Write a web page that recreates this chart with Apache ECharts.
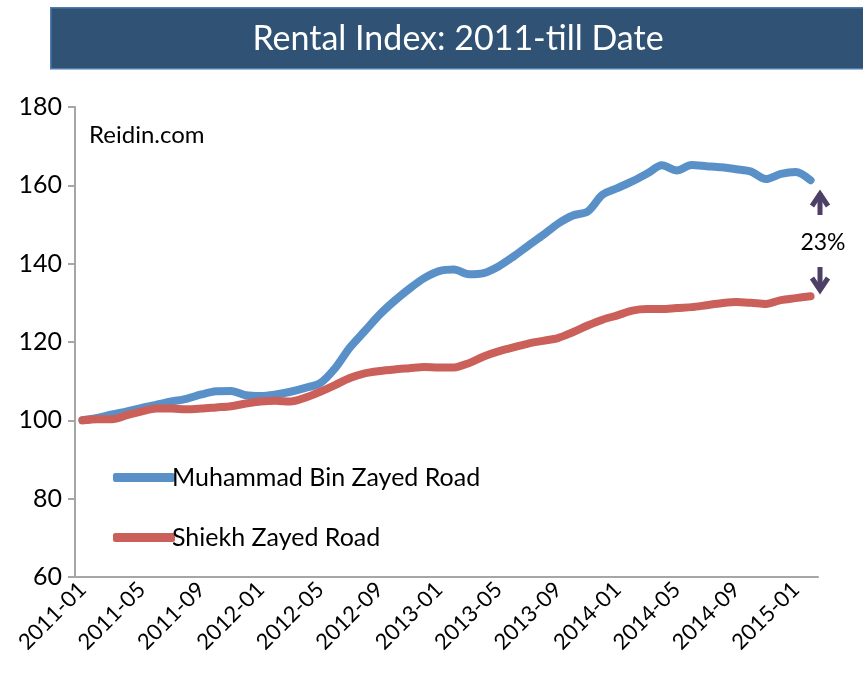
<!DOCTYPE html>
<html>
<head>
<meta charset="utf-8">
<script src="https://cdn.jsdelivr.net/npm/echarts@6/dist/echarts.min.js"></script>
<style>html,body{margin:0;padding:0;background:#fff}#c{width:863px;height:678px}</style>
</head>
<body>
<div id="c"></div>
<script>
// Monthly categories 2011-01 .. 2015-02
const categories = [
  '2011-01','2011-02','2011-03','2011-04','2011-05','2011-06','2011-07','2011-08','2011-09','2011-10','2011-11','2011-12',
  '2012-01','2012-02','2012-03','2012-04','2012-05','2012-06','2012-07','2012-08','2012-09','2012-10','2012-11','2012-12',
  '2013-01','2013-02','2013-03','2013-04','2013-05','2013-06','2013-07','2013-08','2013-09','2013-10','2013-11','2013-12',
  '2014-01','2014-02','2014-03','2014-04','2014-05','2014-06','2014-07','2014-08','2014-09','2014-10','2014-11','2014-12',
  '2015-01','2015-02'
];
const seriesNames = ['Muhammad Bin Zayed Road', 'Shiekh Zayed Road'];
const mbzRoad = [
  100, 100.6, 101.5, 102.3, 103.2, 104, 104.8, 105.5, 106.6, 107.4, 107.5, 106.4,
  106.2, 106.6, 107.3, 108.3, 109.5, 113.3, 118.6, 122.8, 127, 130.5, 133.6, 136.3,
  138.1, 138.5, 137.3, 137.6, 139.3, 141.8, 144.6, 147.3, 150.2, 152.3, 153.3, 157.6,
  159.3, 161, 163, 165.1, 163.8, 165.2, 164.9, 164.6, 164.1, 163.5, 161.6, 162.9,
  163.4, 161.3
];
const szRoad = [
  100, 100.3, 100.3, 101.3, 102.3, 103, 103, 102.8, 103, 103.3, 103.6, 104.3,
  104.8, 105, 104.8, 105.8, 107.3, 109, 110.8, 112, 112.6, 113, 113.3, 113.6,
  113.5, 113.5, 114.6, 116.3, 117.6, 118.6, 119.6, 120.3, 121, 122.5, 124.2, 125.7,
  126.8, 128, 128.4, 128.4, 128.7, 128.9, 129.4, 129.9, 130.2, 130, 129.7, 130.7,
  131.2, 131.7
];
const yTicks = {min: 60, max: 180, interval: 20};
const titleText = 'Rental Index: 2011-till Date';
const sourceText = 'Reidin.com';
const gapText = '23%';

const FONT = 'Lato';
const chart = echarts.init(document.getElementById('c'), null, {renderer: 'canvas'});
const arrowColor = '#4D3F65';
const option = {
  animation: false,
  textStyle: {fontFamily: FONT},
  grid: {left: 75, top: 107, right: 45, bottom: 101, containLabel: false},
  legend: {
    orient: 'vertical', left: 108, top: 460, itemGap: 35,
    icon: 'roundRect', itemWidth: 62, itemHeight: 9,
    textStyle: {fontFamily: FONT, fontSize: 25, color: '#000', padding: [0,0,0,-8]},
    data: seriesNames
  },
  xAxis: {
    type: 'category', data: categories, boundaryGap: true,
    axisLine: {lineStyle: {color: '#A6A6A6', width: 2}},
    axisTick: {interval: 0, length: 6, lineStyle: {color: '#A6A6A6', width: 2}},
    axisLabel: {interval: 3, rotate: 45, fontFamily: FONT, fontSize: 22, color: '#000', margin: 9}
  },
  yAxis: {
    type: 'value', min: yTicks.min, max: yTicks.max, interval: yTicks.interval,
    splitLine: {show: false},
    axisLine: {show: true, lineStyle: {color: '#A6A6A6', width: 2}},
    axisTick: {show: true, length: 7, lineStyle: {color: '#A6A6A6', width: 2}},
    axisLabel: {fontFamily: FONT, fontSize: 25, color: '#000', margin: 13}
  },
  series: [
    {name: seriesNames[0], type: 'line', data: mbzRoad, showSymbol: false, smooth: 0.3,
     lineStyle: {color: '#5A90C8', width: 8, cap: 'round', join: 'round'}, itemStyle: {color: '#5A90C8'}},
    {name: seriesNames[1], type: 'line', data: szRoad, showSymbol: false, smooth: 0.3,
     lineStyle: {color: '#CA6059', width: 8, cap: 'round', join: 'round'}, itemStyle: {color: '#CA6059'}}
  ],
  graphic: [
    {type: 'rect', left: 50, top: 7, shape: {width: 813, height: 61},
     style: {fill: '#2F5275', stroke: '#4F7CB0', lineWidth: 1.5}},
    {type: 'text', x: 458, y: 39, style: {text: titleText, fill: '#fff', font: '34px ' + FONT, textAlign: 'center', textVerticalAlign: 'middle'}},
    {type: 'text', x: 89, y: 135, style: {text: sourceText, fill: '#000', font: '24px ' + FONT, textAlign: 'left', textVerticalAlign: 'middle'}},
    {type: 'text', x: 823, y: 243, style: {text: gapText, fill: '#000', font: '23px ' + FONT, textAlign: 'center', textVerticalAlign: 'middle'}},
    {type: 'line', shape: {x1: 820, y1: 215, x2: 820, y2: 193}, style: {stroke: arrowColor, lineWidth: 5}},
    {type: 'polyline', shape: {points: [[812, 206], [820, 194], [828, 206]]}, style: {stroke: arrowColor, lineWidth: 5, fill: null, lineJoin: 'miter'}},
    {type: 'line', shape: {x1: 820, y1: 267, x2: 820, y2: 290}, style: {stroke: arrowColor, lineWidth: 5}},
    {type: 'polyline', shape: {points: [[812, 278], [820, 290], [828, 278]]}, style: {stroke: arrowColor, lineWidth: 5, fill: null, lineJoin: 'miter'}}
  ]
};
chart.setOption(option);
</script>
</body>
</html>
